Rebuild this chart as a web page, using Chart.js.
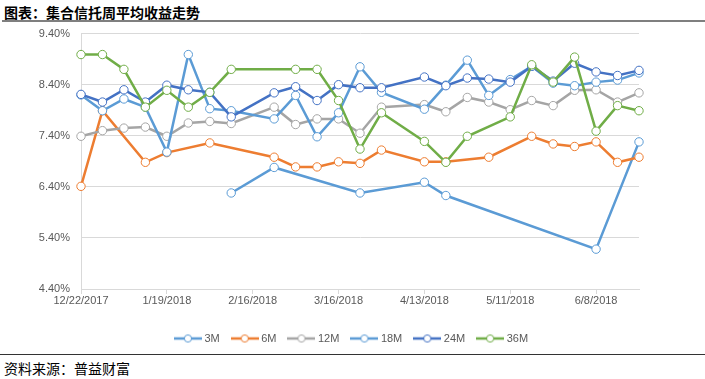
<!DOCTYPE html>
<html>
<head>
<meta charset="utf-8">
<script src="https://cdn.jsdelivr.net/npm/chart.js@4/dist/chart.umd.min.js"></script>
<style>
  html, body { margin:0; padding:0; background:#fff; width:705px; height:379px; overflow:hidden; }
  #title { position:absolute; left:4px; top:3px; font-family:"Noto Sans CJK SC", sans-serif; font-weight:bold; font-size:14px; line-height:18px; color:#000; }
  #tline { position:absolute; left:2px; top:20px; width:703px; height:2px; background:#7f7f7f; }
  #fline { position:absolute; left:0px; top:354px; width:705px; height:1px; background:#333; z-index:2; }
  #footer { position:absolute; left:4px; top:359px; font-family:"Noto Sans CJK SC", sans-serif; font-size:14px; line-height:18px; color:#000; }
  #wrap { position:absolute; left:0; top:16px; width:705px; height:338px; z-index:1; }
</style>
</head>
<body>
<div id="title">图表：集合信托周平均收益走势</div>
<div id="tline"></div>
<div id="wrap"><canvas id="c"></canvas></div>
<div id="fline"></div>
<div id="footer">资料来源：普益财富</div>
<script>
const dates = ["12/22/2017","12/29/2017","1/5/2018","1/12/2018","1/19/2018","1/26/2018","2/2/2018","2/9/2018","2/16/2018","2/23/2018","3/2/2018","3/9/2018","3/16/2018","3/23/2018","3/30/2018","4/6/2018","4/13/2018","4/20/2018","4/27/2018","5/4/2018","5/11/2018","5/18/2018","5/25/2018","6/1/2018","6/8/2018","6/15/2018","6/22/2018"];
const seriesNames = ["3M","6M","12M","18M","24M","36M"];
const m3  = [null,null,null,null,null,null,null,6.28,null,6.78,null,null,null,6.28,null,null,6.49,6.23,null,null,null,null,null,null,5.18,null,7.28];
const m6  = [6.41,7.89,null,6.88,7.07,null,7.26,null,null,6.98,6.79,6.79,6.89,6.86,7.12,null,6.89,6.89,null,6.98,null,7.39,7.24,7.19,7.28,6.88,6.98];
const m12 = [7.39,7.50,7.55,7.57,7.39,7.65,7.68,7.64,null,7.96,7.62,7.73,7.73,7.45,7.96,null,8.01,7.87,8.15,8.06,7.91,8.09,7.99,8.29,8.30,8.06,8.24];
const m18 = [8.20,7.89,8.12,7.96,7.08,8.99,7.93,7.89,null,7.73,8.19,7.38,7.85,8.75,8.25,null,7.92,8.39,8.88,8.19,8.50,8.76,8.43,8.38,8.45,8.49,8.63];
const m24 = [8.21,8.06,8.30,8.06,8.39,8.30,8.25,7.77,null,8.24,8.36,8.09,8.40,8.34,8.34,null,8.55,8.38,8.53,8.51,8.45,8.76,8.47,8.82,8.65,8.58,8.68];
const m36 = [8.99,8.99,8.70,7.96,8.29,7.96,8.25,8.70,null,null,8.70,8.70,8.09,7.14,7.85,null,7.29,6.88,7.39,null,7.77,8.79,8.45,8.94,7.49,7.99,7.89];
const yTicks = [4.40,5.40,6.40,7.40,8.40,9.40];

const seriesData = [m3,m6,m12,m18,m24,m36];
const colors = ["#5B9BD5","#ED7D31","#A5A5A5","#5B9BD5","#4472C4","#70AD47"];

function legendIcon(color){
  const cv = document.createElement('canvas');
  cv.width = 28; cv.height = 10;
  const g = cv.getContext('2d');
  g.strokeStyle = color; g.lineWidth = 2.5;
  g.beginPath(); g.moveTo(0,5); g.lineTo(28,5); g.stroke();
  g.beginPath(); g.arc(14,5,3.6,0,Math.PI*2);
  g.fillStyle = '#fff'; g.fill();
  g.lineWidth = 1; g.stroke();
  return cv;
}
const icons = colors.map(legendIcon);

const datasets = seriesNames.map((n,i)=>({
  label: n,
  data: seriesData[i],
  borderColor: colors[i],
  backgroundColor: colors[i],
  borderWidth: 2.5,
  pointRadius: 4.2,
  pointBorderWidth: 1,
  pointBackgroundColor: '#fff',
  pointBorderColor: colors[i],
  spanGaps: true,
  tension: 0,
  order: 6 - i
}));

new Chart(document.getElementById('c'), {
  type: 'line',
  data: { labels: dates, datasets },
  options: {
    responsive: true,
    maintainAspectRatio: false,
    animation: false,
    layout: { padding: { left:0, right:0, top:0, bottom:0 } },
    plugins: {
      tooltip: { enabled:false },
      legend: {
        position: 'bottom',
        labels: {
          usePointStyle: true,
          pointStyleWidth: 22,
          padding: 14,
          color: '#595959',
          font: { family: 'Liberation Sans', size: 11 },
          sort: (a,b) => a.datasetIndex - b.datasetIndex,
          generateLabels: (chart) => chart.data.datasets.map((d,i)=>({
            text: d.label, pointStyle: icons[i], datasetIndex: i,
            fillStyle: '#fff', strokeStyle: colors[i], lineWidth: 0, hidden: false,
            fontColor: '#595959'
          }))
        }
      }
    },
    scales: {
      x: {
        type: 'category',
        offset: false,
        afterFit: (a) => { a.height = 30; },
        border: { display: true, color: '#d9d9d9' },
        grid: {
          drawOnChartArea: false, drawTicks: true, tickLength: 5,
          color: (ctx) => (ctx.index % 4 === 0 ? '#d9d9d9' : 'rgba(0,0,0,0)')
        },
        ticks: {
          autoSkip: false, maxRotation: 0, minRotation: 0, padding: 0,
          color: '#595959', font: { family: 'Liberation Sans', size: 11 },
          callback: function(v, i){ return i % 4 === 0 ? dates[i] : ''; }
        }
      },
      y: {
        min: yTicks[0], max: yTicks[yTicks.length-1],
        afterFit: (a) => { a.width = 81; },
        afterBuildTicks: (a) => { a.ticks = yTicks.map(v=>({value:v})); },
        border: { display: true, color: '#d9d9d9' },
        grid: { color: '#d9d9d9', drawTicks: false },
        ticks: {
          padding: 11, color: '#595959', font: { family: 'Liberation Sans', size: 11 },
          callback: (v) => Number(v).toFixed(2) + '%'
        }
      },
      yR: {
        position: 'right',
        display: true,
        afterFit: (a) => { a.width = 66; },
        grid: { display: false },
        border: { display: false },
        ticks: { display: false }
      }
    }
  }
});
</script>
</body>
</html>
